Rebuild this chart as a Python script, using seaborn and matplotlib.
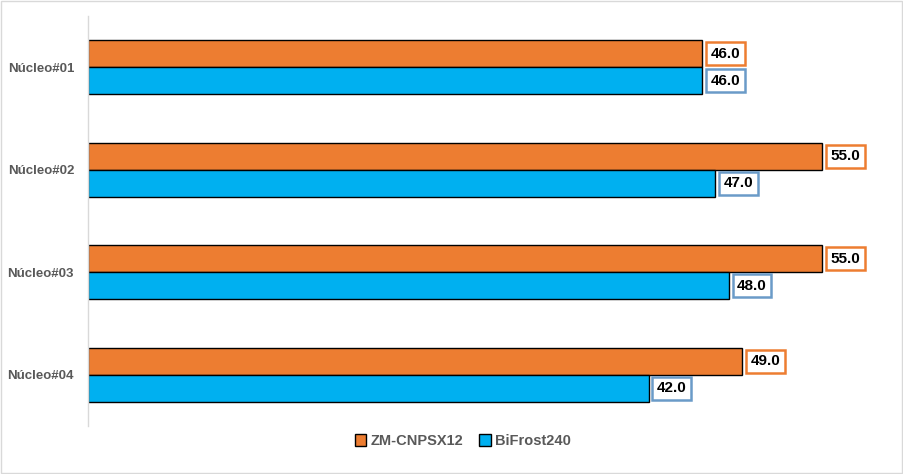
import matplotlib
matplotlib.use("Agg")
import matplotlib.pyplot as plt
import matplotlib.patches as mpatches
import seaborn as sns
import pandas as pd

# datos del grafico
nucleos = ["Núcleo#01", "Núcleo#02", "Núcleo#03", "Núcleo#04"]
series = ["ZM-CNPSX12", "BiFrost240"]
zm = [46.0, 55.0, 55.0, 49.0]
bifrost = [46.0, 47.0, 48.0, 42.0]

colores = ["#ED7D31", "#00B0F0"]
bordes_etiqueta = ["#ED7D31", "#6A9BC8"]

df = pd.DataFrame({
    "Nucleo": nucleos * 2,
    "Temp": zm + bifrost,
    "Serie": [series[0]] * 4 + [series[1]] * 4,
})

sns.set_style("white")
plt.rcParams["font.family"] = ["Liberation Sans", "DejaVu Sans"]

fig = plt.figure(figsize=(9.04, 4.74), dpi=100)
ax = fig.add_axes([88 / 904, 1 - 426 / 474, (889 - 88) / 904, (426 - 16) / 474])

sns.barplot(data=df, x="Temp", y="Nucleo", hue="Serie", orient="h",
            order=nucleos, hue_order=series, palette=colores, width=0.53,
            edgecolor="black", linewidth=1.0, saturation=1, ax=ax)

# etiquetas con caja
for cont, ec in zip(ax.containers, bordes_etiqueta):
    ax.bar_label(cont, fmt="%.1f", padding=6, fontsize=11, fontweight="bold",
                 color="black",
                 bbox=dict(boxstyle="square,pad=0.3", fc="white", ec=ec, lw=1.8))

ax.set_xlim(0, 60)
ax.set_ylim(3.5, -0.5)
ax.set_xlabel("")
ax.set_ylabel("")
ax.set_xticks([])
ax.tick_params(axis="y", length=0, pad=10)
for lbl in ax.get_yticklabels():
    lbl.set_fontweight("bold")
    lbl.set_color("#595959")
    lbl.set_fontsize(9.5)

for s in ["top", "right", "bottom"]:
    ax.spines[s].set_visible(False)
ax.spines["left"].set_color("#D9D9D9")
ax.spines["left"].set_linewidth(1)

ax.get_legend().remove()
handles = [mpatches.Patch(facecolor=c, edgecolor="black", lw=1) for c in colores]
leg = fig.legend(handles, series, loc="center", bbox_to_anchor=(463 / 904, 1 - 441 / 474),
                 ncol=2, frameon=False, handlelength=0.8, handleheight=0.8,
                 handletextpad=0.3, columnspacing=1.1,
                 prop={"weight": "bold", "size": 10.5})
for t in leg.get_texts():
    t.set_color("#595959")

# borde del area del grafico
fig.patches.append(mpatches.Rectangle((0.001, 0.002), 0.997, 0.996, transform=fig.transFigure,
                                      fill=False, ec="#D9D9D9", lw=1))

fig.savefig("out.png", dpi=100)
